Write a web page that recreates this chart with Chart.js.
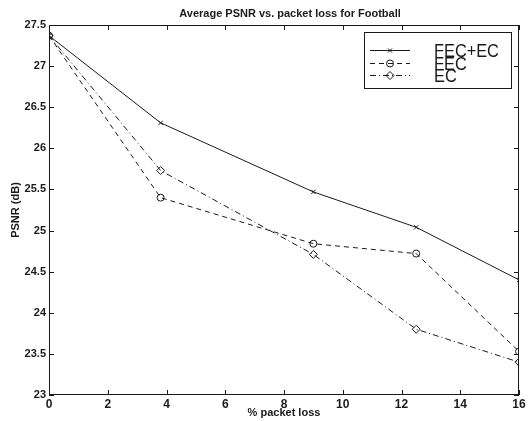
<!DOCTYPE html>
<html>
<head>
<meta charset="utf-8">
<script src="https://cdn.jsdelivr.net/npm/chart.js"></script>
<style>
  html, body { margin: 0; padding: 0; background: #fff; }
  #wrap { width: 531px; height: 421px; }
</style>
</head>
<body>
<div id="wrap"><canvas id="psnrChart" width="531" height="421"></canvas></div>
<script>
// data
const lossPct   = [0, 3.8, 9.0, 12.5, 16];
const fecEc     = [27.37, 26.31, 25.47, 25.04, 24.40];
const fecOnly   = [27.37, 25.40, 24.84, 24.72, 23.53];
const ecOnly    = [27.37, 25.73, 24.71, 23.80, 23.40];
const xTicks    = [0, 2, 4, 6, 8, 10, 12, 14, 16];
const yTicks    = [23, 23.5, 24, 24.5, 25, 25.5, 26, 26.5, 27, 27.5];
const seriesNames = ['FEC+EC', 'FEC', 'EC'];

const ink = '#1a1a1a';
const font = 'Liberation Sans, Arial, sans-serif';

function toPoints(ys) {
  return ys.map((y, i) => ({ x: lossPct[i], y: y }));
}

// inward ticks on all four sides + top/right border (matlab style box)
const boxTicks = {
  id: 'boxTicks',
  afterDraw(chart) {
    const ctx = chart.ctx, a = chart.chartArea;
    const xs = chart.scales.x, ys = chart.scales.y;
    ctx.save();
    ctx.strokeStyle = ink;
    ctx.lineWidth = 1;
    ctx.strokeRect(a.left + 0.5, a.top + 0.5, a.right - a.left - 1, a.bottom - a.top - 1);
    ctx.beginPath();
    xTicks.forEach(v => {
      const px = Math.round(xs.getPixelForValue(v)) + 0.5;
      ctx.moveTo(px, a.bottom); ctx.lineTo(px, a.bottom - 5);
      ctx.moveTo(px, a.top); ctx.lineTo(px, a.top + 5);
    });
    yTicks.forEach(v => {
      const py = Math.round(ys.getPixelForValue(v)) + 0.5;
      ctx.moveTo(a.left, py); ctx.lineTo(a.left + 5, py);
      ctx.moveTo(a.right, py); ctx.lineTo(a.right - 5, py);
    });
    ctx.stroke();

    // title, slightly right of centre like the original
    ctx.fillStyle = ink;
    ctx.font = 'bold 11px ' + font;
    ctx.textAlign = 'center';
    ctx.textBaseline = 'alphabetic';
    ctx.fillText('Average PSNR vs. packet loss for Football', 290, 17);

    // legend box
    const bx = 364, by = 32, bw = 147, bh = 56;
    ctx.fillStyle = '#fff';
    ctx.fillRect(bx, by, bw, bh);
    ctx.strokeRect(bx + 0.5, by + 0.5, bw, bh);
    const rows = [50, 63, 75];
    chart.data.datasets.forEach((ds, i) => {
      const y = rows[i] + 0.5;
      ctx.setLineDash(ds.borderDash || []);
      ctx.beginPath();
      ctx.moveTo(370, y); ctx.lineTo(410, y);
      ctx.stroke();
      ctx.setLineDash([]);
      ctx.beginPath();
      if (ds.pointStyle === 'crossRot') {
        ctx.moveTo(388, y - 2); ctx.lineTo(392, y + 2);
        ctx.moveTo(388, y + 2); ctx.lineTo(392, y - 2);
      } else if (ds.pointStyle === 'circle') {
        ctx.arc(390, y, 3.5, 0, Math.PI * 2);
      } else {
        ctx.moveTo(390, y - 4); ctx.lineTo(394, y); ctx.lineTo(390, y + 4); ctx.lineTo(386, y); ctx.closePath();
      }
      ctx.stroke();
      ctx.save();
      ctx.translate(434, rows[i] + 7);
      ctx.scale(0.86, 1);
      ctx.fillStyle = ink;
      ctx.font = '19px ' + font;
      ctx.textAlign = 'left';
      ctx.fillText(seriesNames[i], 0, 0);
      ctx.restore();
    });
    ctx.restore();
  }
};

new Chart(document.getElementById('psnrChart'), {
  type: 'line',
  data: {
    datasets: [
      {
        label: seriesNames[0],
        data: toPoints(fecEc),
        borderColor: ink, borderWidth: 1,
        pointStyle: 'crossRot', pointRadius: 3, pointBorderColor: ink, pointBorderWidth: 1,
        pointBackgroundColor: 'rgba(0,0,0,0)',
        tension: 0, fill: false
      },
      {
        label: seriesNames[1],
        data: toPoints(fecOnly),
        borderColor: ink, borderWidth: 1, borderDash: [5, 4],
        pointStyle: 'circle', pointRadius: 3.5, pointBorderColor: ink, pointBorderWidth: 1,
        pointBackgroundColor: 'rgba(0,0,0,0)',
        tension: 0, fill: false
      },
      {
        label: seriesNames[2],
        data: toPoints(ecOnly),
        borderColor: ink, borderWidth: 1, borderDash: [6, 3, 1, 3],
        pointStyle: 'rectRot', pointRadius: 4, pointBorderColor: ink, pointBorderWidth: 1,
        pointBackgroundColor: 'rgba(0,0,0,0)',
        tension: 0, fill: false
      }
    ]
  },
  options: {
    responsive: false,
    animation: false,
    devicePixelRatio: 1,
    layout: { padding: { top: 25, right: 12, left: 0, bottom: 0 } },
    plugins: {
      legend: { display: false },
      title: { display: false },
      tooltip: { enabled: false }
    },
    scales: {
      x: {
        type: 'linear',
        min: 0, max: 16,
        afterFit: s => { s.height = 26; },
        afterBuildTicks: s => { s.ticks = xTicks.map(v => ({ value: v })); },
        grid: { display: false, drawTicks: false },
        border: { display: false },
        ticks: { color: ink, padding: 2, font: { family: font, size: 12, weight: 'bold' }, maxRotation: 0 },
        title: {
          display: true, text: '% packet loss', color: ink,
          font: { family: font, size: 11, weight: 'bold' }, padding: { top: 0, bottom: 1 }
        }
      },
      y: {
        type: 'linear',
        min: 23, max: 27.5,
        afterFit: s => { s.width = 49; },
        afterBuildTicks: s => { s.ticks = yTicks.map(v => ({ value: v })); },
        grid: { display: false, drawTicks: false },
        border: { display: false },
        ticks: {
          color: ink, padding: 3, font: { family: font, size: 11, weight: 'bold' },
          callback: v => String(v)
        },
        title: {
          display: true, text: 'PSNR (dB)', color: ink,
          font: { family: font, size: 11, weight: 'bold' }, padding: { top: 9, bottom: 0 }
        }
      }
    }
  },
  plugins: [boxTicks]
});
</script>
</body>
</html>
